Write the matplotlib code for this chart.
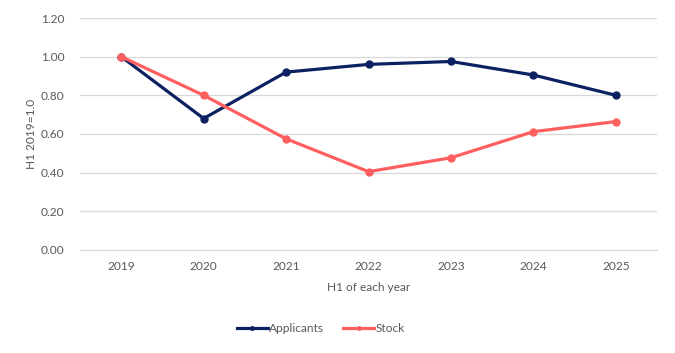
import matplotlib.pyplot as plt

years = ['2019', '2020', '2021', '2022', '2023', '2024', '2025']
applicants = [1.00, 0.68, 0.92, 0.96, 0.975, 0.905, 0.80]
stock = [1.00, 0.80, 0.575, 0.405, 0.477, 0.612, 0.664]

txt = '#595959'
plt.rcParams['font.family'] = ['Lato', 'DejaVu Sans']
fs = 8.6

fig = plt.figure(figsize=(6.75, 3.53), dpi=100)
ax = fig.add_axes([0.1185, 0.292, 0.855, 0.657])

x = range(len(years))
ax.plot(x, applicants, color='#0b2161', linewidth=2.3, marker='o', markersize=5, label='Applicants')
ax.plot(x, stock, color='#ff5f5f', linewidth=2.3, marker='o', markersize=5, label='Stock')

ax.set_xlim(-0.5, len(years) - 0.5)
ax.set_ylim(0, 1.2)
ax.set_yticks([0, 0.2, 0.4, 0.6, 0.8, 1.0, 1.2])
ax.set_yticklabels(['%.2f' % v for v in ax.get_yticks()])
ax.set_xticks(list(x))
ax.set_xticklabels(years)
ax.grid(axis='y', color='#d9d9d9', linewidth=0.9)
ax.set_axisbelow(True)
for s in ['top', 'right', 'left']:
    ax.spines[s].set_visible(False)
ax.spines['bottom'].set_color('#d9d9d9')
ax.tick_params(length=0, labelsize=fs, colors=txt, pad=8)
ax.tick_params(axis='y', pad=11)

ax.set_xlabel('H1 of each year', fontsize=fs, color=txt, labelpad=7)
ax.set_ylabel('H1 2019=1.0', fontsize=fs, color=txt, labelpad=3)

leg = fig.legend(loc='center', bbox_to_anchor=(0.475, 0.068), ncol=2, frameon=False,
                 fontsize=fs, handlelength=2.6, handletextpad=0.1, columnspacing=1.6,
                 markerscale=0.5)
for t in leg.get_texts():
    t.set_color(txt)

fig.savefig('out.png', dpi=100)
